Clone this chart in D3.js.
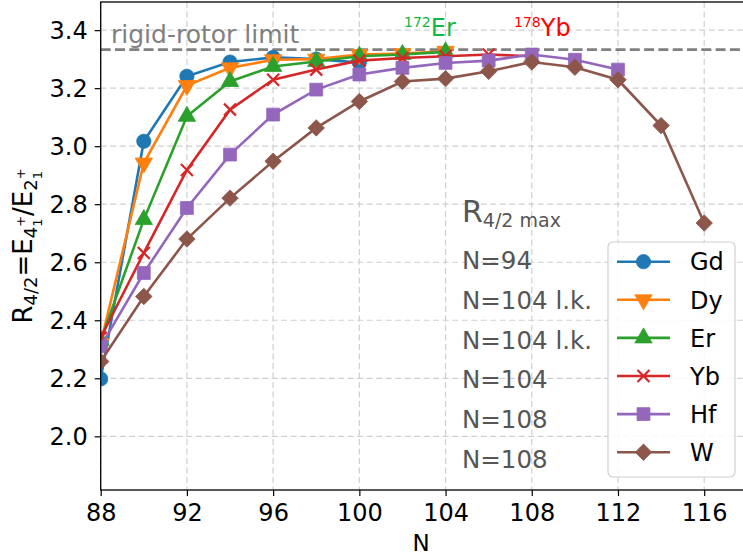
<!DOCTYPE html>
<html>
<head>
<meta charset="utf-8">
<script src="https://cdn.jsdelivr.net/npm/d3@7"></script>
<style>
  html, body { margin: 0; padding: 0; background: #fff; }
  svg { display: block; font-family: "DejaVu Sans", sans-serif; }
</style>
</head>
<body>
<svg id="chart" width="743" height="557"></svg>
<script>
// ---------------- DATA ----------------
const nValues = [88, 90, 92, 94, 96, 98, 100, 102, 104, 106, 108, 110, 112, 114, 116];
const xTicks = [88, 92, 96, 100, 104, 108, 112, 116];
const yTicks = [2.0, 2.2, 2.4, 2.6, 2.8, 3.0, 3.2, 3.4];
const seriesNames = ["Gd", "Dy", "Er", "Yb", "Hf", "W"];
const seriesColors = ["#1f77b4", "#ff7f0e", "#2ca02c", "#d62728", "#9467bd", "#8c564b"];
const seriesMarkers = ["circle", "triangleDown", "triangleUp", "x", "square", "diamond"];
const gdValues = [2.198, 3.017, 3.241, 3.290, 3.306, 3.300, 3.288];
const dyValues = [2.32, 2.942, 3.209, 3.270, 3.298, 3.300, 3.316, 3.319, 3.327];
const erValues = [2.33, 2.747, 3.103, 3.223, 3.275, 3.292, 3.310, 3.316, 3.325];
const ybValues = [2.34, 2.632, 2.918, 3.126, 3.229, 3.264, 3.295, 3.304, 3.310, 3.316, 3.310];
const hfValues = [2.31, 2.563, 2.787, 2.971, 3.109, 3.195, 3.247, 3.270, 3.287, 3.295, 3.316, 3.298, 3.264];
const wValues  = [2.258, 2.482, 2.680, 2.821, 2.948, 3.063, 3.154, 3.223, 3.233, 3.258, 3.290, 3.272, 3.229, 3.071, 2.735];
const rigidRotor = 3.333;
const maxLabels = ["N=94", "N=104 l.k.", "N=104 l.k.", "N=104", "N=108", "N=108"];
const seriesValues = [gdValues, dyValues, erValues, ybValues, hfValues, wValues];

// ---------------- LAYOUT ----------------
const svg = d3.select("#chart");
const pLeft = 100.7, pRight = 743, pTop = 2, pBottom = 490;
const x = d3.scaleLinear().domain([88, 117.8]).range([pLeft, pRight]);
const y = d3.scaleLinear().domain([1.815, 3.497]).range([pBottom, pTop]);
const font = "DejaVu Sans, sans-serif";

svg.append("defs").append("clipPath").attr("id", "plotclip")
  .append("rect").attr("x", pLeft).attr("y", pTop).attr("width", pRight - pLeft + 10).attr("height", pBottom - pTop);

// grid
const grid = svg.append("g");
grid.selectAll("line.vx").data(xTicks).join("line").attr("class", "vx")
  .attr("x1", d => x(d)).attr("x2", d => x(d)).attr("y1", pTop).attr("y2", pBottom)
  .attr("stroke", "#cfcfcf").attr("stroke-width", 1.2).attr("stroke-dasharray", "6,3.5");
grid.selectAll("line.hy").data(yTicks).join("line").attr("class", "hy")
  .attr("x1", pLeft).attr("x2", pRight).attr("y1", d => y(d)).attr("y2", d => y(d))
  .attr("stroke", "#cfcfcf").attr("stroke-width", 1.2).attr("stroke-dasharray", "6,3.5");

// rigid rotor line
svg.append("line")
  .attr("x1", pLeft).attr("x2", pRight).attr("y1", y(rigidRotor)).attr("y2", y(rigidRotor))
  .attr("stroke", "#808080").attr("stroke-width", 2.6).attr("stroke-dasharray", "10,4.3");

// marker generator
function markerPath(type) {
  switch (type) {
    case "circle": return d3.symbol(d3.symbolCircle, 160)();
    case "triangleUp": return d3.symbol(d3.symbolTriangle, 130)();
    case "triangleDown": return d3.symbol(d3.symbolTriangle, 130)();
    case "square": return d3.symbol(d3.symbolSquare, 165)();
    case "diamond": return d3.symbol(d3.symbolSquare, 135)();
    case "x": return "M-6,-6L6,6M-6,6L6,-6";
  }
}
function markerRot(type) {
  if (type === "triangleDown") return " rotate(180)";
  if (type === "diamond") return " rotate(45)";
  return "";
}
function drawMarker(g, type, color, cx, cy) {
  const p = g.append("path").attr("d", markerPath(type))
    .attr("transform", `translate(${cx},${cy})` + markerRot(type));
  if (type === "x") p.attr("fill", "none").attr("stroke", color).attr("stroke-width", 2.2);
  else p.attr("fill", color).attr("stroke", color).attr("stroke-width", 0.8);
}

// series
const plot = svg.append("g").attr("clip-path", "url(#plotclip)");
const line = d3.line().x(d => x(d[0])).y(d => y(d[1]));
seriesValues.forEach((vals, i) => {
  const pts = vals.map((v, j) => [nValues[j], v]);
  const g = plot.append("g");
  g.append("path").attr("d", line(pts)).attr("fill", "none")
    .attr("stroke", seriesColors[i]).attr("stroke-width", 2.6);
  pts.forEach(p => drawMarker(g, seriesMarkers[i], seriesColors[i], x(p[0]), y(p[1])));
});

// axes frame
svg.append("rect").attr("x", pLeft).attr("y", pTop).attr("width", pRight - pLeft + 20).attr("height", pBottom - pTop)
  .attr("fill", "none").attr("stroke", "#000").attr("stroke-width", 1.3);

// x axis
const xAxis = svg.append("g").attr("transform", `translate(0,${pBottom})`)
  .call(d3.axisBottom(x).tickValues(xTicks).tickSize(6).tickPadding(4).tickFormat(d3.format("d")));
xAxis.select(".domain").remove();
xAxis.selectAll("line").attr("stroke", "#000").attr("stroke-width", 1.2);
xAxis.selectAll("text").attr("font-family", font).attr("font-size", 24).attr("fill", "#000")
  .attr("dy", null).attr("y", 31);

// y axis
const yAxis = svg.append("g").attr("transform", `translate(${pLeft},0)`)
  .call(d3.axisLeft(y).tickValues(yTicks).tickSize(6).tickPadding(7).tickFormat(d3.format(".1f")));
yAxis.select(".domain").remove();
yAxis.selectAll("line").attr("stroke", "#000").attr("stroke-width", 1.2);
yAxis.selectAll("text").attr("font-family", font).attr("font-size", 24).attr("fill", "#000")
  .attr("dy", "0.36em").attr("x", -13);

// x label
svg.append("text").attr("x", 421).attr("y", 551).attr("text-anchor", "middle")
  .attr("font-family", font).attr("font-size", 23).text("N");

// y label (rotated) R_{4/2}=E_{4_1^+}/E_{2_1^+}
const yl = svg.append("text").attr("transform", "translate(32,246) rotate(-90)")
  .attr("text-anchor", "middle").attr("font-family", font).attr("font-size", 26).attr("fill", "#000");
yl.append("tspan").text("R");
yl.append("tspan").attr("font-size", 18).attr("dy", 5).text("4/2");
yl.append("tspan").attr("dy", -5).text("=E");
yl.append("tspan").attr("font-size", 18).attr("dy", 5).text("4");
yl.append("tspan").attr("font-size", 13).attr("dy", -12).text("+");
yl.append("tspan").attr("font-size", 13).attr("dx", -10.9).attr("dy", 17).text("1");
yl.append("tspan").attr("dx", 2.6).attr("dy", -10).text("/E");
yl.append("tspan").attr("font-size", 18).attr("dy", 5).text("2");
yl.append("tspan").attr("font-size", 13).attr("dy", -12).text("+");
yl.append("tspan").attr("font-size", 13).attr("dx", -10.9).attr("dy", 17).text("1");

// annotations
svg.append("text").attr("x", 111).attr("y", 43).attr("font-family", font).attr("font-size", 25)
  .attr("fill", "#808080").text("rigid-rotor limit");

const er = svg.append("text").attr("x", 404).attr("y", 36).attr("font-family", font).attr("fill", "#10b845");
er.append("tspan").attr("font-size", 14).attr("dy", -9).text("172");
er.append("tspan").attr("font-size", 24).attr("dy", 9).text("Er");

const yb = svg.append("text").attr("x", 514).attr("y", 36).attr("font-family", font).attr("fill", "#ff0000");
yb.append("tspan").attr("font-size", 14).attr("dy", -9).text("178");
yb.append("tspan").attr("font-size", 24).attr("dy", 9).text("Yb");

// R4/2 max block
const rm = svg.append("text").attr("x", 462).attr("y", 222).attr("font-family", font).attr("fill", "#555555");
rm.append("tspan").attr("font-size", 30).text("R");
rm.append("tspan").attr("font-size", 19).attr("dy", 5).text("4/2 max");
svg.selectAll("text.maxlab").data(maxLabels).join("text").attr("class", "maxlab")
  .attr("x", 462).attr("y", (d, i) => 269 + i * 39.8)
  .attr("font-family", font).attr("font-size", 24.5).attr("fill", "#555555").text(d => d);

// legend
const lg = svg.append("g");
lg.append("rect").attr("x", 608).attr("y", 242).attr("width", 127).attr("height", 235).attr("rx", 5)
  .attr("fill", "#fff").attr("fill-opacity", 0.85).attr("stroke", "#d0d0d0").attr("stroke-width", 1.2);
seriesNames.forEach((name, i) => {
  const cy = 261.7 + i * 38.1;
  lg.append("line").attr("x1", 617).attr("x2", 670).attr("y1", cy).attr("y2", cy)
    .attr("stroke", seriesColors[i]).attr("stroke-width", 2.6);
  drawMarker(lg, seriesMarkers[i], seriesColors[i], 643.5, cy);
  lg.append("text").attr("x", 690).attr("y", cy + 8.7).attr("font-family", font).attr("font-size", 24)
    .attr("fill", "#000").text(name);
});
</script>
</body>
</html>
